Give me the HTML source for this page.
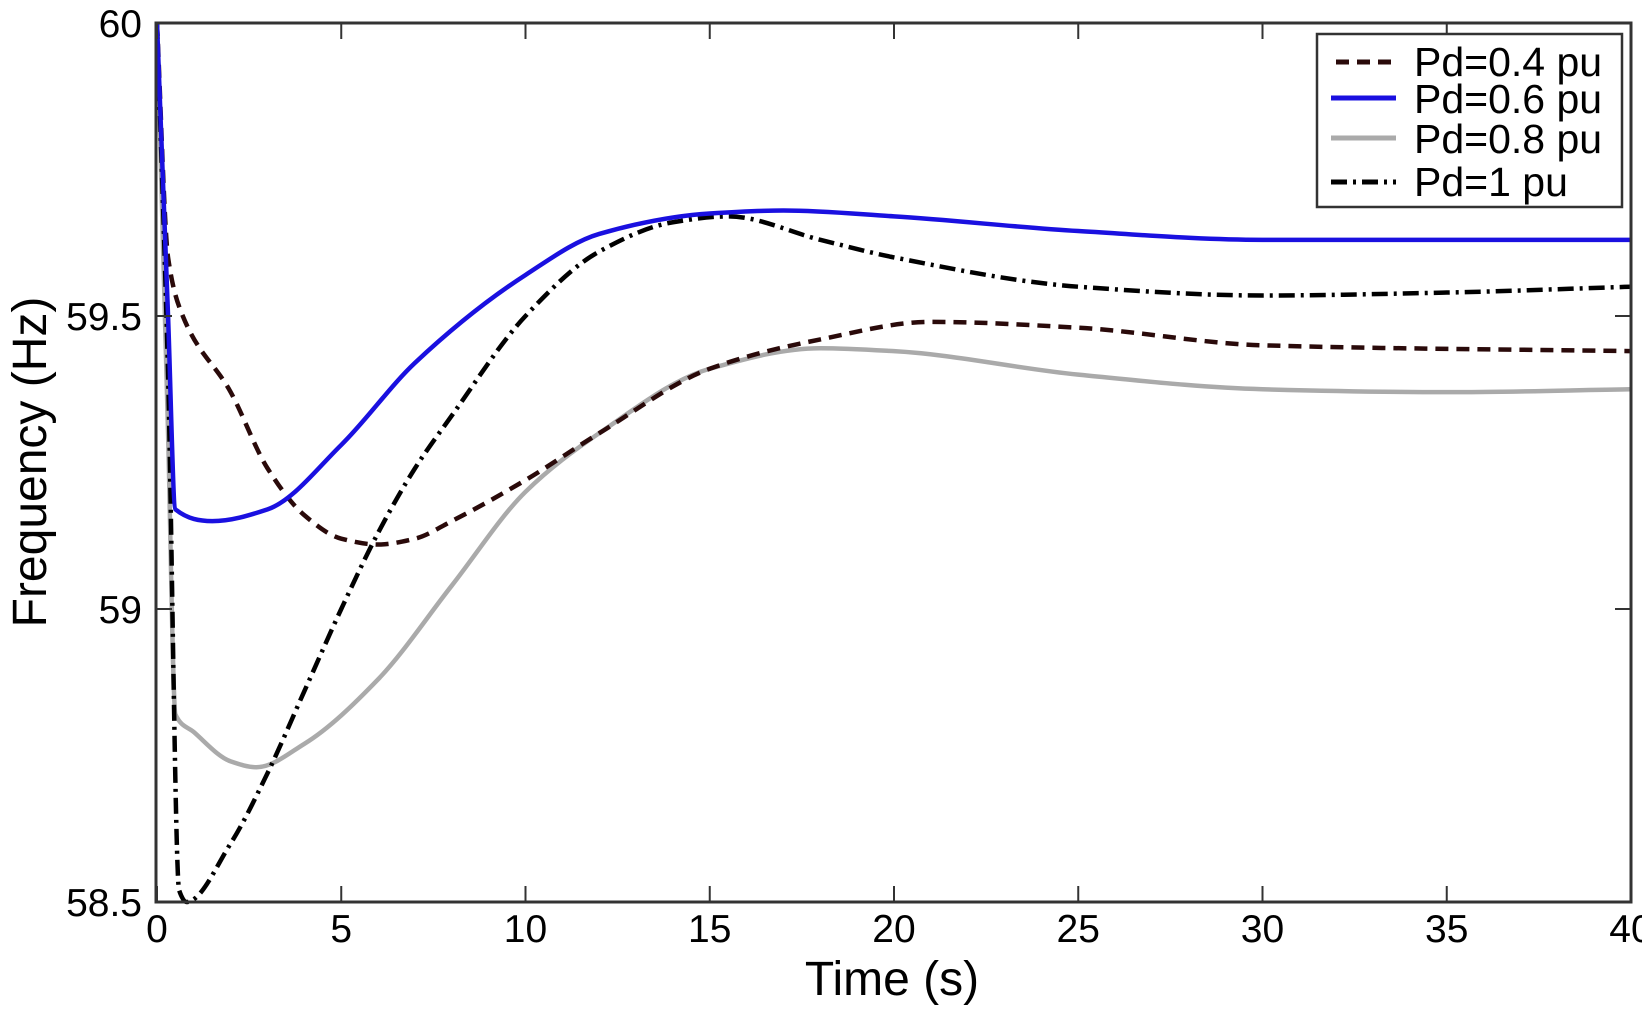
<!DOCTYPE html>
<html><head><meta charset="utf-8"><style>
html,body{margin:0;padding:0;background:#fff}
svg text{font-family:"Liberation Sans",sans-serif;fill:#000}
</style></head><body>
<svg id="chart" width="1642" height="1005" viewBox="0 0 1642 1005" xmlns="http://www.w3.org/2000/svg">
<g id="series"></g>
<rect x="156" y="23" width="1475" height="879" fill="none" stroke="#333" stroke-width="3"/>
<g id="axes"></g>
<text x="892" y="995" font-size="48" text-anchor="middle">Time (s)</text>
<text transform="translate(46,462) rotate(-90)" font-size="48" text-anchor="middle">Frequency (Hz)</text>
<g>
<rect x="1317" y="34" width="305" height="173" fill="#fff" stroke="#333" stroke-width="2.5"/>
<line x1="1336" y1="62" x2="1396" y2="62" stroke="#2a0a0a" stroke-width="5" stroke-dasharray="13,8"/>
<text x="1414" y="76" font-size="41">Pd=0.4 pu</text>
<line x1="1331" y1="98" x2="1396" y2="98" stroke="#1a10e0" stroke-width="5"/>
<text x="1414" y="113" font-size="41">Pd=0.6 pu</text>
<line x1="1331" y1="138" x2="1396" y2="138" stroke="#aaa" stroke-width="5"/>
<text x="1414" y="153" font-size="41">Pd=0.8 pu</text>
<line x1="1331" y1="182" x2="1396" y2="182" stroke="#000" stroke-width="5" stroke-dasharray="16,6,3,6"/>
<text x="1414" y="196" font-size="41">Pd=1 pu</text>
</g>
</svg>
<script>
const xTicks=[0,5,10,15,20,25,30,35,40];
const yTicks=[58.5,59,59.5,60];
const yTickLabels=["58.5","59","59.5","60"];
const t04=[0,0.3,0.7,2,3,4,5,6,7,8,10,12,15,18,21,25,30,40];
const f04=[60,59.6,59.5,59.37,59.24,59.16,59.12,59.11,59.12,59.15,59.22,59.3,59.41,59.46,59.49,59.48,59.45,59.44];
const t06=[0,0.3,0.5,1.5,3,5,7,10,12,15,17,20,25,30,40];
const f06=[60,59.5,59.17,59.15,59.17,59.28,59.42,59.57,59.64,59.675,59.68,59.67,59.645,59.63,59.63];
const t08=[0,0.3,0.5,1,2,2.7,4,6,8,10,12,15,18,20,25,30,35,40];
const f08=[60,59.3,58.82,58.79,58.74,58.73,58.77,58.88,59.04,59.2,59.3,59.41,59.445,59.44,59.4,59.375,59.37,59.375];
const t10=[0,0.3,0.6,0.8,2,3,4,5,6,7,8,10,12,14,15.5,18,20,25,30,35,40];
const f10=[60,59.4,58.52,58.5,58.6,58.72,58.86,59.0,59.13,59.24,59.33,59.5,59.61,59.66,59.67,59.63,59.6,59.55,59.535,59.54,59.55];

const X=t=>157+(1631-157)*t/40;
const Y=f=>902-(902-23)*(f-58.5)/1.5;
const NS="http://www.w3.org/2000/svg";
function pathD(ts,fs){
  const x=ts.map(X),y=fs.map(Y),n=x.length;
  const d=[],m=[];
  for(let i=0;i<n-1;i++)d.push((y[i+1]-y[i])/(x[i+1]-x[i]));
  m[0]=d[0];m[n-1]=d[n-2];
  for(let i=1;i<n-1;i++){
    if(d[i-1]*d[i]<=0)m[i]=0;
    else{const h0=x[i]-x[i-1],h1=x[i+1]-x[i];const w1=2*h1+h0,w2=h1+2*h0;m[i]=(w1+w2)/(w1/d[i-1]+w2/d[i]);}
  }
  let s="M"+x[0]+","+y[0];
  for(let i=0;i<n-1;i++){
    const h=(x[i+1]-x[i])/3;
    s+=` C${x[i]+h},${y[i]+m[i]*h} ${x[i+1]-h},${y[i+1]-m[i+1]*h} ${x[i+1]},${y[i+1]}`;
  }
  return s;
}
const sg=document.getElementById('series');
function addSeries(name,ts,fs,color,dash){
  const el=document.createElementNS(NS,'path');
  el.setAttribute('d',pathD(ts,fs));
  el.setAttribute('fill','none');
  el.setAttribute('stroke',color);
  el.setAttribute('stroke-width','4.5');
  if(dash)el.setAttribute('stroke-dasharray',dash);
  
  
  sg.appendChild(el);
}
addSeries('series-pd-0.8',t08,f08,'#aaa',null);
addSeries('series-pd-0.4',t04,f04,'#2a0a0a','13,8');
addSeries('series-pd-1',t10,f10,'#000','16,6,3,6');
addSeries('series-pd-0.6',t06,f06,'#1a10e0',null);

const ax=document.getElementById('axes');
xTicks.forEach(t=>{
  [[902,886],[23,39]].forEach(([a,b])=>{
    const l=document.createElementNS(NS,'line');
    l.setAttribute('x1',X(t));l.setAttribute('x2',X(t));l.setAttribute('y1',a);l.setAttribute('y2',b);
    l.setAttribute('stroke','#333');l.setAttribute('stroke-width','2');
    
    
    ax.appendChild(l);
  });
  const tx=document.createElementNS(NS,'text');
  tx.setAttribute('x',X(t));tx.setAttribute('y',942);tx.setAttribute('font-size','39');tx.setAttribute('text-anchor','middle');
  tx.textContent=String(t);
  
  
  ax.appendChild(tx);
});
yTicks.forEach((v,i)=>{
  [[156,172],[1631,1615]].forEach(([a,b])=>{
    const l=document.createElementNS(NS,'line');
    l.setAttribute('x1',a);l.setAttribute('x2',b);l.setAttribute('y1',Y(v));l.setAttribute('y2',Y(v));
    l.setAttribute('stroke','#333');l.setAttribute('stroke-width','2');
    
    
    ax.appendChild(l);
  });
  const tx=document.createElementNS(NS,'text');
  tx.setAttribute('x',142);tx.setAttribute('y',Y(v)+14);tx.setAttribute('font-size','39');tx.setAttribute('text-anchor','end');
  tx.textContent=yTickLabels[i];
  
  
  ax.appendChild(tx);
});
</script>
</body></html>
